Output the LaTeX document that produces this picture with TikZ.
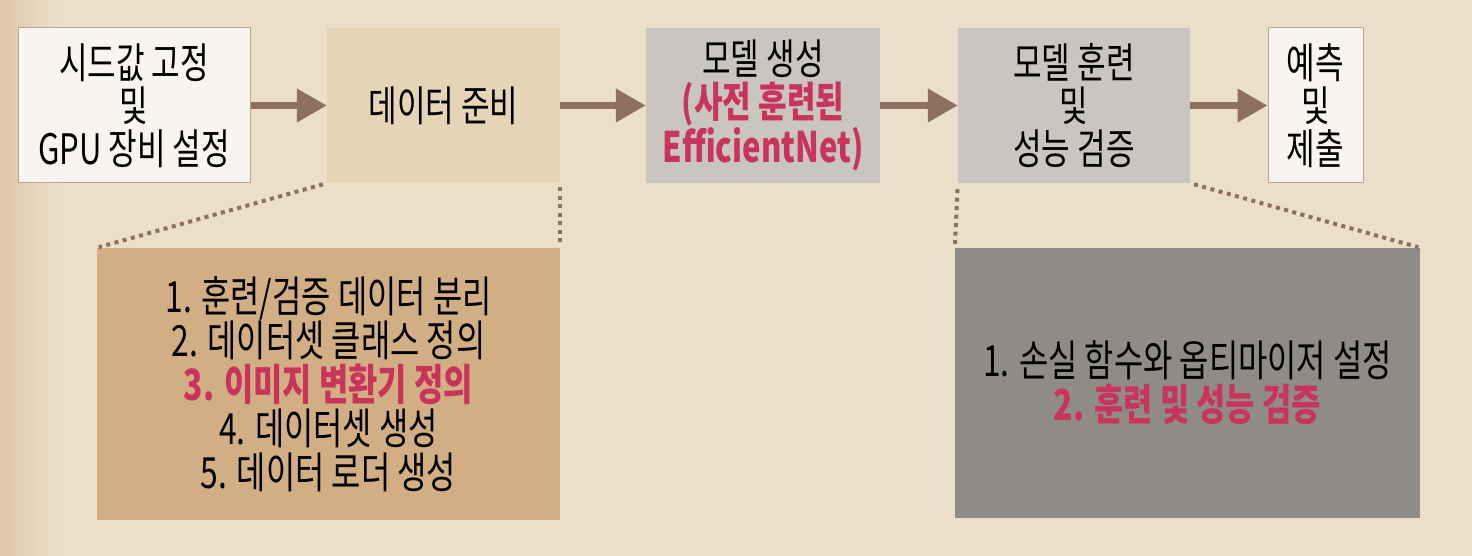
\documentclass[tikz,border=0pt]{standalone}
\usepackage{fontspec}
\setmainfont{Noto Sans CJK KR}[FakeStretch=0.74]
\usetikzlibrary{arrows.meta}
\definecolor{paper}{HTML}{ECDFCA}
\definecolor{paperdark}{HTML}{DDC9AB}
\definecolor{whitebox}{HTML}{F8F5F0}
\definecolor{whiteedge}{HTML}{B9A58E}
\definecolor{tanlight}{HTML}{E6D4B7}
\definecolor{graylight}{HTML}{C9C6C1}
\definecolor{tandark}{HTML}{D2AE84}
\definecolor{graydark}{HTML}{8F8C88}
\definecolor{arrowbrown}{HTML}{8E7060}
\definecolor{accent}{HTML}{C8345A}
\newcommand{\hl}[1]{\textcolor{accent}{\bfseries #1}}
\tikzset{
  stepbox/.style={rectangle, inner sep=0pt, align=center, font=\fontsize{42}{43}\selectfont, text=black},
  whitestep/.style={stepbox, fill=whitebox, draw=whiteedge, line width=1pt},
  tanstep/.style={stepbox, fill=tanlight},
  graystep/.style={stepbox, fill=graylight},
  detailbox/.style={rectangle, inner sep=0pt, align=center, font=\fontsize{43}{44}\selectfont, text=black},
  flowarrow/.style={draw=arrowbrown, line width=7pt, -{Triangle[length=30pt,width=32pt]}},
  dotline/.style={draw=arrowbrown, line width=4pt, dash pattern=on 4pt off 4.5pt}
}
\begin{document}
\begin{tikzpicture}[x=1pt,y=-1pt]
\useasboundingbox (0,0) rectangle (1472,556);
\fill[paper] (0,0) rectangle (1472,556);
\shade[left color=paperdark, right color=paper] (0,0) rectangle (60,556);

\node[whitestep, minimum width=232pt, minimum height=155pt] (b1) at (134,105.5) {시드값 고정\\및\\GPU 장비 설정};
\node[tanstep, minimum width=233pt, minimum height=155pt] (b2) at (443.5,105.5) {데이터 준비};
\node[graystep, minimum width=234pt, minimum height=155pt] (b3) at (763,105.5) {모델 생성\\\hl{(사전 훈련된}\\\hl{EfficientNet)}};
\node[graystep, minimum width=232pt, minimum height=155pt] (b4) at (1074,105.5) {모델 훈련\\및\\성능 검증};
\node[whitestep, minimum width=95pt, minimum height=155pt] (b5) at (1315.5,105.5) {예측\\및\\제출};

\node[detailbox, fill=tandark, minimum width=463pt, minimum height=272pt] (d1) at (328.5,384) {1. 훈련/검증 데이터 분리\\2. 데이터셋 클래스 정의\\\hl{3. 이미지 변환기 정의}\\4. 데이터셋 생성\\5. 데이터 로더 생성};
\node[detailbox, fill=graydark, minimum width=465pt, minimum height=270pt] (d2) at (1187.5,383) {1. 손실 함수와 옵티마이저 설정\\\hl{2. 훈련 및 성능 검증}};

\draw[flowarrow] (b1) -- (b2);
\draw[flowarrow] (b2) -- (b3);
\draw[flowarrow] (b3) -- (b4);
\draw[flowarrow] (b4) -- (b5);

\draw[dotline, shorten <=4pt, shorten >=2pt] (b2.south west) -- (d1.north west);
\draw[dotline, shorten <=4pt, shorten >=2pt] (b2.south east) -- (d1.north east);
\draw[dotline, shorten <=6pt, shorten >=4pt] (b4.south west) -- (d2.north west);
\draw[dotline, shorten <=4pt, shorten >=2pt] (b4.south east) -- (d2.north east);
\end{tikzpicture}
\end{document}
